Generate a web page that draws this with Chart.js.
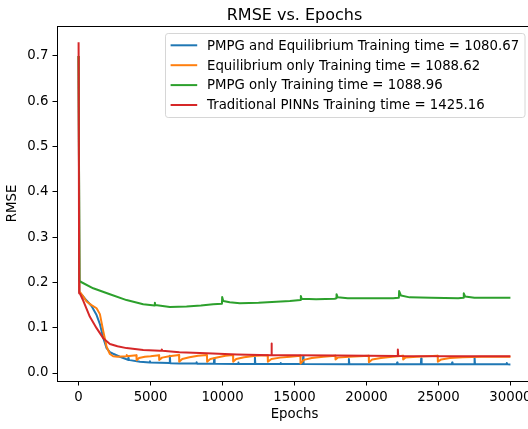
<!DOCTYPE html>
<html><head><meta charset="utf-8">
<script src="https://cdn.jsdelivr.net/npm/chart.js@4.4.0/dist/chart.umd.min.js"></script>
<style>
html,body{margin:0;padding:0;overflow:hidden;background:#fff;width:528px;height:429px}
#wrap{width:540px;height:429px}
canvas{display:block}
</style></head>
<body><div id="wrap"><canvas id="c" width="540" height="429" style="width:540px;height:429px"></canvas></div>
<script>
const chartTitle = 'RMSE vs. Epochs';
const xLabel = 'Epochs';
const yLabel = 'RMSE';
const seriesNames = [
  'PMPG and Equilibrium Training time = 1080.67',
  'Equilibrium only Training time = 1088.62',
  'PMPG only Training time = 1088.96',
  'Traditional PINNs Training time = 1425.16'
];
const seriesColors = ['#1f77b4', '#ff7f0e', '#2ca02c', '#d62728'];
const xTicks = [0, 5000, 10000, 15000, 20000, 25000, 30000];
const yTicks = [0.0, 0.1, 0.2, 0.3, 0.4, 0.5, 0.6, 0.7];

// PMPG and Equilibrium
const pmpgEqEpochs = [0, 60, 300, 555, 900, 1250, 1480, 1710, 1945, 2175, 2400, 2870, 3200, 3430, 3450, 3480, 3560, 4260, 4950, 4960, 4990, 5650, 6320, 6340, 6370, 7000, 8190, 8200, 8230, 9400, 9420, 9450, 11080, 11090, 11120, 12230, 12250, 12280, 14020, 14030, 14060, 15580, 15600, 15630, 18760, 18780, 18810, 22110, 22130, 22160, 23780, 23800, 23830, 25930, 25950, 25980, 27490, 27510, 27540, 29700, 29750, 29800, 30000];
const pmpgEqRmse = [0.70, 0.178, 0.170, 0.160, 0.148, 0.128, 0.108, 0.078, 0.055, 0.046, 0.0425, 0.036, 0.032, 0.029, 0.033, 0.029, 0.0285, 0.025, 0.0235, 0.026, 0.0233, 0.0225, 0.022, 0.038, 0.0218, 0.021, 0.0208, 0.024, 0.0207, 0.0205, 0.032, 0.0205, 0.020, 0.023, 0.020, 0.020, 0.034, 0.020, 0.0198, 0.022, 0.0198, 0.0197, 0.036, 0.0197, 0.0195, 0.031, 0.0195, 0.0194, 0.023, 0.0194, 0.0193, 0.032, 0.0193, 0.0192, 0.023, 0.0192, 0.0192, 0.034, 0.0192, 0.0191, 0.022, 0.0191, 0.019];

// Equilibrium only
const eqEpochs = [0, 60, 300, 555, 900, 1250, 1480, 1710, 1945, 2175, 2400, 2700, 3300, 3330, 3360, 4020, 4030, 4200, 4600, 5000, 5590, 5600, 5800, 6300, 6980, 6990, 7200, 7700, 8300, 8920, 8930, 9150, 9700, 10200, 10730, 10740, 10950, 11500, 12300, 13140, 13150, 13400, 14000, 14700, 15410, 15420, 15650, 16200, 17000, 17840, 17850, 18000, 18800, 19500, 20160, 20170, 20400, 21000, 21800, 22540, 22550, 22700, 23500, 24950, 24960, 25200, 25800, 26700, 28000, 30000];
const eqRmse = [0.70, 0.180, 0.170, 0.158, 0.150, 0.143, 0.130, 0.093, 0.058, 0.042, 0.037, 0.036, 0.037, 0.040, 0.037, 0.039, 0.028, 0.033, 0.036, 0.037, 0.039, 0.029, 0.034, 0.037, 0.040, 0.025, 0.031, 0.035, 0.038, 0.040, 0.025, 0.031, 0.035, 0.038, 0.040, 0.025, 0.031, 0.035, 0.038, 0.039, 0.025, 0.031, 0.034, 0.036, 0.038, 0.021, 0.029, 0.033, 0.036, 0.038, 0.030, 0.034, 0.036, 0.037, 0.038, 0.024, 0.030, 0.033, 0.036, 0.038, 0.030, 0.034, 0.036, 0.038, 0.025, 0.030, 0.033, 0.035, 0.036, 0.036];

// PMPG only
const pmpgEpochs = [0, 60, 139, 1015, 2175, 3330, 4490, 5280, 5300, 5330, 6340, 7500, 8500, 9350, 9960, 9975, 10050, 10500, 11200, 12500, 14680, 15420, 15440, 15500, 16500, 17800, 17900, 17920, 18000, 18700, 21850, 22250, 22270, 22400, 23000, 24500, 26370, 26740, 26760, 26850, 27500, 30000];
const pmpgRmse = [0.70, 0.204, 0.2015, 0.187, 0.174, 0.161, 0.152, 0.149, 0.155, 0.150, 0.146, 0.147, 0.149, 0.152, 0.153, 0.168, 0.159, 0.156, 0.154, 0.155, 0.159, 0.161, 0.170, 0.164, 0.163, 0.164, 0.165, 0.174, 0.167, 0.165, 0.165, 0.166, 0.181, 0.171, 0.167, 0.166, 0.165, 0.166, 0.176, 0.169, 0.166, 0.166];

// Traditional PINNs
const pinnEpochs = [0, 40, 100, 320, 785, 1250, 1710, 2175, 2700, 3330, 4490, 5650, 5760, 5780, 5820, 7000, 8890, 11000, 13380, 13400, 13430, 15000, 18000, 22160, 22180, 22210, 26000, 30000];
const pinnRmse = [0.73, 0.176, 0.175, 0.160, 0.124, 0.099, 0.077, 0.064, 0.059, 0.055, 0.051, 0.049, 0.049, 0.052, 0.049, 0.046, 0.0435, 0.041, 0.039, 0.065, 0.040, 0.0395, 0.0385, 0.0375, 0.052, 0.0375, 0.037, 0.037];

const seriesEpochs = [pmpgEqEpochs, eqEpochs, pmpgEpochs, pinnEpochs];
const seriesRmse = [pmpgEqRmse, eqRmse, pmpgRmse, pinnRmse];

const FONT = 'DejaVu Sans';
Chart.defaults.font.family = FONT;
Chart.defaults.font.size = 13.3;
Chart.defaults.color = '#000';

const datasets = seriesNames.map((name, i) => ({
  label: name,
  data: seriesEpochs[i].map((e, k) => ({x: e, y: seriesRmse[i][k]})),
  borderColor: seriesColors[i],
  backgroundColor: seriesColors[i],
  borderWidth: 2,
  borderJoinStyle: 'round',
  borderCapStyle: 'butt',
  pointRadius: 0,
  tension: 0,
  fill: false,
  order: 4 - i
}));

const overlay = {
  id: 'overlay',
  afterDraw(chart) {
    const ctx = chart.ctx;
    const a = chart.chartArea;
    ctx.save();
    // top spine
    ctx.strokeStyle = '#000';
    ctx.lineWidth = 1;
    ctx.beginPath();
    ctx.moveTo(a.left, a.top + 0.5);
    ctx.lineTo(a.right, a.top + 0.5);
    ctx.stroke();
    // title
    ctx.fillStyle = '#000';
    ctx.font = '16px "' + FONT + '"';
    ctx.textAlign = 'center';
    ctx.textBaseline = 'alphabetic';
    ctx.fillText(chartTitle, (a.left + a.right) / 2, 19.5);
    // legend
    const bx = 165.5, by = 33.5, bw = 359.5, bh = 84, r = 2.7;
    ctx.beginPath();
    ctx.moveTo(bx + r, by);
    ctx.lineTo(bx + bw - r, by);
    ctx.arcTo(bx + bw, by, bx + bw, by + r, r);
    ctx.lineTo(bx + bw, by + bh - r);
    ctx.arcTo(bx + bw, by + bh, bx + bw - r, by + bh, r);
    ctx.lineTo(bx + r, by + bh);
    ctx.arcTo(bx, by + bh, bx, by + bh - r, r);
    ctx.lineTo(bx, by + r);
    ctx.arcTo(bx, by, bx + r, by, r);
    ctx.closePath();
    ctx.fillStyle = 'rgba(255,255,255,0.8)';
    ctx.fill();
    ctx.strokeStyle = '#d6d6d6';
    ctx.stroke();
    ctx.font = '13.3px "' + FONT + '"';
    ctx.textAlign = 'left';
    seriesNames.forEach((name, i) => {
      const y = 45.3 + i * 19.9;
      ctx.strokeStyle = seriesColors[i];
      ctx.lineWidth = 2;
      ctx.beginPath();
      ctx.moveTo(170.6, y);
      ctx.lineTo(197.2, y);
      ctx.stroke();
      ctx.fillStyle = '#000';
      ctx.fillText(name, 207, y + 4.3);
    });
    ctx.restore();
  }
};

new Chart(document.getElementById('c'), {
  type: 'line',
  data: {datasets},
  options: {
    responsive: false,
    animation: false,
    events: [],
    devicePixelRatio: 1,
    layout: {padding: {top: 26, right: 8, left: 0, bottom: 0}},
    plugins: {legend: {display: false}, title: {display: false}, tooltip: {enabled: false}},
    scales: {
      x: {
        type: 'linear',
        min: -1500, max: 31500,
        afterBuildTicks: s => { s.ticks = xTicks.map(v => ({value: v})); },
        afterFit: s => { s.height = 48; },
        ticks: {padding: 4, maxRotation: 0, autoSkip: false, color: '#000', font: {size: 13.3},
          callback: v => String(v)},
        grid: {display: true, drawOnChartArea: false, drawTicks: true, tickLength: 4.5, color: '#000', lineWidth: 1},
        border: {display: true, color: '#000', width: 1},
        title: {display: true, text: xLabel, color: '#000', font: {size: 13.3}, padding: {top: 0, bottom: 6}}
      },
      y: {
        type: 'linear',
        min: -0.0176, max: 0.766,
        afterBuildTicks: s => { s.ticks = yTicks.map(v => ({value: v})); },
        afterFit: s => { s.width = 57; },
        ticks: {padding: 4, autoSkip: false, color: '#000', font: {size: 13.3},
          callback: v => Number(v).toFixed(1)},
        grid: {display: true, drawOnChartArea: false, drawTicks: true, tickLength: 4.5, color: '#000', lineWidth: 1},
        border: {display: true, color: '#000', width: 1},
        title: {display: true, text: yLabel, color: '#000', font: {size: 13.3}, padding: {top: 5, bottom: 0}}
      }
    }
  },
  plugins: [overlay]
});
</script>
</body></html>
